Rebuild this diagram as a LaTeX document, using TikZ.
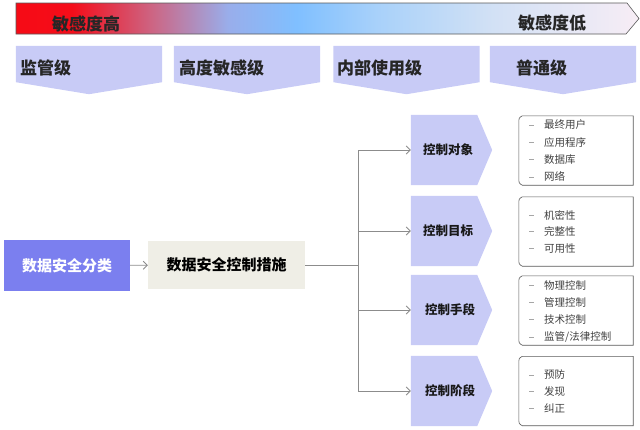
\documentclass[tikz,border=0pt]{standalone}
\usepackage{fontspec}
\setmainfont{Noto Sans CJK SC}
\usetikzlibrary{arrows.meta,backgrounds,calc}
\definecolor{lav}{HTML}{C8CBF6}
\definecolor{blu}{HTML}{7B7FEF}
\definecolor{beige}{HTML}{EFEEE6}
\definecolor{conn}{HTML}{8C8C8C}
\pgfdeclarehorizontalshading{sens}{100bp}{rgb(0bp)=(1,0,0); rgb(29.5bp)=(0.96,0.05,0.1); rgb(36bp)=(0.8,0.4,0.52); rgb(42bp)=(0.6,0.68,0.92); rgb(47.5bp)=(0.5,0.75,1); rgb(54bp)=(0.66,0.82,0.98); rgb(63bp)=(0.82,0.88,0.96); rgb(75bp)=(0.97,0.93,0.96); rgb(100bp)=(0.97,0.93,0.96)}
\begin{document}
\begin{tikzpicture}[x=1pt,y=-1pt,
  lvl/.style={inner sep=0pt, minimum width=146pt, minimum height=36pt},
  lvltxt/.style={anchor=west, inner sep=0pt, font=\fontsize{17}{19}\selectfont\bfseries, text=black!85},
  bartxt/.style={inner sep=0pt, font=\fontsize{17}{19}\selectfont\bfseries, text=black!85},
  pent/.style={inner sep=0pt, minimum width=66pt, minimum height=70pt},
  penttxt/.style={inner sep=0pt, font=\fontsize{12.5}{14}\selectfont\bfseries, text=black!90},
  lst/.style={inner sep=0pt, minimum width=114pt, minimum height=69pt},
  lstline/.style={draw=black!65, line width=0.6pt},
  item/.style={anchor=west, inner sep=0pt, font=\fontsize{10.5}{12}\selectfont, text=black!75},
  dsh/.style={anchor=west, inner sep=0pt, text=black!35},
  link/.style={draw=conn, line width=0.8pt},
  arr/.style={link, -{Straight Barb[length=4pt,width=8pt]}},
  bigbox/.style={inner sep=0pt, font=\fontsize{15}{17}\selectfont\bfseries},
]
\useasboundingbox (0,0) rectangle (640,429);

% sensitivity bar
\shade[shading=sens, draw=black!65, line width=0.6pt] (16,3) -- (627,3) -- (639,18.5) -- (626,34) -- (16,34) -- cycle;
\node[bartxt] (hi) at (86,24) {敏感度高};
\node[bartxt] (lo) at (552,23) {敏感度低};

% level boxes
\node[lvl] (L1) at (89,64) {};
\node[lvl] (L2) at (247,64) {};
\node[lvl] (L3) at (406.5,64) {};
\node[lvl] (L4) at (563,64) {};
\node[lvltxt] (t1) at (20,68) {监管级};
\node[lvltxt] (t2) at (179,68) {高度敏感级};
\node[lvltxt] (t3) at (337,68) {内部使用级};
\node[lvltxt] (t4) at (516,68) {普通级};

% main boxes
\node[bigbox, fill=blu, text=white, minimum width=126pt, minimum height=51pt] (cls) at (67,265.5) {数据安全分类};
\node[bigbox, fill=beige, text=black, minimum width=157pt, minimum height=48pt] (ctl) at (226.5,265) {数据安全控制措施};
\draw[arr] (cls) -- (ctl);
\coordinate (j) at (358,265);
\draw[link] (ctl) -- (j);

% pentagons
\node[pent] (p1) at (444,150) {};
\node[pent] (p2) at (444,231) {};
\node[pent] (p3) at (444,310) {};
\node[pent] (p4) at (444,391) {};
\node[penttxt] (q1) at (448,150) {控制对象};
\node[penttxt] (q2) at (448,231) {控制目标};
\node[penttxt] (q3) at (450,310) {控制手段};
\node[penttxt] (q4) at (450,391) {控制阶段};

\draw[link] (p1.west -| j) -- (p4.west -| j);
\foreach \p in {p1,p2,p3,p4} \draw[arr] (\p.west -| j) -- (\p.west);

% list boxes
\node[lst] (l1) at (576,150.5) {};
\node[lst] (l2) at (576,231.5) {};
\node[lst] (l3) at (576,310.5) {};
\node[lst] (l4) at (576,391) {};
\foreach \l in {l1,l2,l3,l4}
  \draw[lstline] ($(\l.north west)+(3.5,0)$) -- (\l.north east) -- (\l.south east) -- ($(\l.south west)+(3.5,0)$)
     .. controls ($(\l.south west)+(0,-2)$) .. ($(\l.south west)+(0,-8)$) -- ($(\l.north west)+(0,8)$)
     .. controls ($(\l.north west)+(0,2)$) .. ($(\l.north west)+(3.5,0)$);

\newcommand{\itemdash}{\rule[0pt]{5pt}{0.7pt}}
\foreach \t [count=\i] in {最终用户,应用程序,数据库,网络}{
  \node[dsh] (da\i) at (529,{125+(\i-1)*17.3}) {\itemdash};
  \node[item] (a\i) at (544,{125+(\i-1)*17.3}) {\t};}
\foreach \t [count=\i] in {机密性,完整性,可用性}{
  \node[dsh] (db\i) at (529,{215+(\i-1)*16.6}) {\itemdash};
  \node[item] (b\i) at (544,{215+(\i-1)*16.6}) {\t};}
\foreach \t [count=\i] in {物理控制,管理控制,技术控制,监管/法律控制}{
  \node[dsh] (dc\i) at (529,{285+(\i-1)*17.3}) {\itemdash};
  \node[item] (c\i) at (544,{285+(\i-1)*17.3}) {\t};}
\foreach \t [count=\i] in {预防,发现,纠正}{
  \node[dsh] (dd\i) at (529,{375+(\i-1)*16.6}) {\itemdash};
  \node[item] (d\i) at (544,{375+(\i-1)*16.6}) {\t};}

\begin{scope}[on background layer]
  \foreach \b in {L1,L2,L3,L4}
    \fill[lav] (\b.north west) -- (\b.north east) -- (\b.south east) -- ($(\b.south)+(0,12)$) -- (\b.south west) -- cycle;
  \foreach \p in {p1,p2,p3,p4}
    \fill[lav] (\p.north west) -- (\p.north east) -- ($(\p.east)+(15,0)$) -- (\p.south east) -- (\p.south west) -- cycle;
\end{scope}
\end{tikzpicture}
\end{document}
